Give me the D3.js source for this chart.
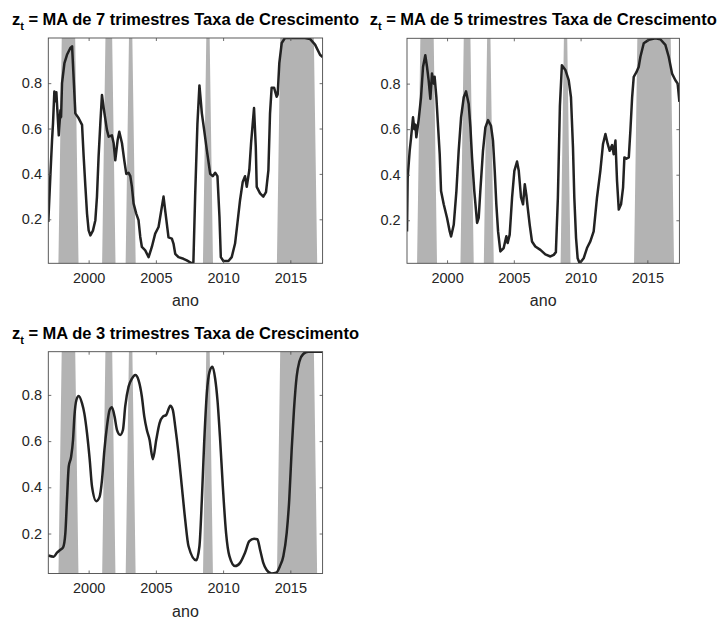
<!DOCTYPE html>
<html>
<head>
<meta charset="utf-8">
<script src="https://cdn.jsdelivr.net/npm/d3@7"></script>
<style>
  body { margin: 0; background: #fff; }
  svg { display: block; }
  text { font-family: Arial, "Liberation Sans", Helvetica, sans-serif; }
</style>
</head>
<body>
<svg id="chart" width="717" height="618"></svg>
<script>
// Smoothed recession probabilities, [year, value] with quarterly dates as year + (q-1)/4
const ma7 = [
  [1997.00,0.188],[1997.16,0.40],[1997.28,0.55],[1997.35,0.623],[1997.45,0.763],[1997.53,0.72],
  [1997.60,0.76],[1997.78,0.57],[1997.90,0.68],[1997.95,0.65],[1998.02,0.80],[1998.20,0.888],
  [1998.39,0.925],[1998.64,0.955],[1998.77,0.962],[1998.89,0.815],[1999.01,0.667],[1999.26,0.645],
  [1999.51,0.616],[1999.63,0.476],[1999.76,0.343],[1999.88,0.225],[2000.00,0.151],[2000.13,0.129],
  [2000.32,0.15],[2000.50,0.196],[2000.62,0.30],[2000.74,0.476],[2000.87,0.623],[2000.99,0.748],
  [2001.12,0.69],[2001.36,0.594],[2001.49,0.564],[2001.73,0.57],[2001.86,0.535],[2001.98,0.46],
  [2002.16,0.55],[2002.28,0.586],[2002.48,0.535],[2002.65,0.46],[2002.80,0.40],[2002.97,0.405],
  [2003.10,0.39],[2003.22,0.343],[2003.34,0.27],[2003.54,0.225],[2003.71,0.196],[2003.84,0.122],
  [2003.96,0.078],[2004.21,0.063],[2004.46,0.033],[2004.70,0.078],[2004.95,0.137],[2005.20,0.166],
  [2005.57,0.30],[2005.69,0.24],[2005.94,0.12],[2006.19,0.115],[2006.31,0.093],[2006.44,0.048],
  [2006.68,0.033],[2007.05,0.026],[2007.30,0.019],[2007.67,0.006],[2007.79,0.01],[2007.92,0.30],
  [2008.09,0.62],[2008.24,0.79],[2008.42,0.667],[2008.59,0.594],[2008.79,0.505],[2009.04,0.40],
  [2009.23,0.39],[2009.41,0.405],[2009.58,0.39],[2009.73,0.21],[2009.83,0.033],[2010.02,0.016],
  [2010.40,0.016],[2010.64,0.033],[2010.89,0.093],[2011.06,0.18],[2011.26,0.284],[2011.46,0.365],
  [2011.63,0.39],[2011.76,0.343],[2011.95,0.417],[2012.08,0.535],[2012.30,0.69],[2012.43,0.52],
  [2012.50,0.343],[2012.75,0.314],[2012.99,0.30],[2013.19,0.32],[2013.37,0.417],[2013.49,0.667],
  [2013.61,0.78],[2013.79,0.78],[2013.98,0.74],[2014.06,0.75],[2014.18,0.888],[2014.36,0.977],
  [2014.60,0.999],[2016.09,0.999],[2016.46,0.995],[2016.84,0.97],[2017.21,0.925],[2017.40,0.915]
];

const ma5 = [
  [1997.00,0.151],[1997.05,0.387],[1997.20,0.505],[1997.30,0.56],[1997.45,0.652],[1997.55,0.60],
  [1997.63,0.62],[1997.70,0.564],[1997.87,0.64],[1998.05,0.74],[1998.20,0.873],[1998.37,0.925],
  [1998.50,0.873],[1998.62,0.815],[1998.75,0.733],[1998.87,0.844],[1999.00,0.80],[1999.07,0.83],
  [1999.20,0.74],[1999.30,0.638],[1999.45,0.49],[1999.55,0.328],[1999.75,0.27],[2000.00,0.21],
  [2000.20,0.151],[2000.30,0.129],[2000.50,0.18],[2000.70,0.328],[2000.87,0.505],[2001.05,0.652],
  [2001.25,0.74],[2001.42,0.766],[2001.62,0.71],[2001.75,0.608],[2001.87,0.476],[2002.04,0.328],
  [2002.25,0.188],[2002.37,0.21],[2002.49,0.328],[2002.69,0.505],[2002.87,0.608],[2003.07,0.64],
  [2003.29,0.615],[2003.44,0.55],[2003.57,0.417],[2003.69,0.27],[2003.82,0.151],[2003.99,0.063],
  [2004.24,0.078],[2004.44,0.13],[2004.54,0.10],[2004.69,0.137],[2004.87,0.30],[2005.04,0.417],
  [2005.24,0.458],[2005.37,0.417],[2005.54,0.30],[2005.69,0.27],[2005.82,0.358],[2005.94,0.31],
  [2006.04,0.255],[2006.19,0.18],[2006.36,0.107],[2006.61,0.085],[2006.99,0.07],[2007.36,0.05],
  [2007.74,0.041],[2007.99,0.048],[2008.15,0.06],[2008.30,0.30],[2008.45,0.70],[2008.60,0.881],
  [2008.86,0.86],[2009.11,0.815],[2009.28,0.74],[2009.43,0.52],[2009.53,0.30],[2009.66,0.122],
  [2009.78,0.033],[2009.93,0.011],[2010.23,0.033],[2010.48,0.078],[2010.73,0.107],[2010.98,0.151],
  [2011.23,0.30],[2011.48,0.417],[2011.68,0.535],[2011.86,0.579],[2012.03,0.535],[2012.18,0.505],
  [2012.36,0.53],[2012.48,0.49],[2012.61,0.55],[2012.73,0.372],[2012.86,0.247],[2013.03,0.27],
  [2013.18,0.343],[2013.28,0.476],[2013.43,0.47],[2013.61,0.476],[2013.73,0.594],[2013.86,0.74],
  [2013.98,0.83],[2014.18,0.85],[2014.35,0.873],[2014.48,0.918],[2014.73,0.977],[2015.10,0.992],
  [2015.60,0.999],[2015.97,0.995],[2016.35,0.97],[2016.60,0.918],[2016.85,0.844],[2017.10,0.815],
  [2017.27,0.80],[2017.40,0.72]
];

const ma3 = [
  [1997.00,0.105],[1997.40,0.10],[1997.65,0.117],[1997.90,0.13],[1998.10,0.14],[1998.27,0.203],
  [1998.39,0.347],[1998.52,0.49],[1998.69,0.53],[1998.84,0.606],[1998.94,0.706],[1999.09,0.778],
  [1999.26,0.795],[1999.51,0.763],[1999.68,0.72],[1999.88,0.634],[2000.08,0.52],[2000.25,0.404],
  [2000.57,0.34],[2000.82,0.36],[2000.99,0.43],[2001.17,0.56],[2001.36,0.663],[2001.56,0.735],
  [2001.73,0.747],[2001.93,0.706],[2002.11,0.648],[2002.35,0.627],[2002.55,0.648],[2002.72,0.75],
  [2002.97,0.836],[2003.22,0.87],[2003.47,0.886],[2003.71,0.864],[2003.96,0.792],[2004.14,0.706],
  [2004.33,0.648],[2004.53,0.606],[2004.78,0.522],[2005.03,0.606],[2005.27,0.677],[2005.52,0.706],
  [2005.77,0.713],[2006.07,0.753],[2006.26,0.735],[2006.44,0.663],[2006.68,0.548],[2006.93,0.404],
  [2007.18,0.26],[2007.43,0.145],[2008.00,0.084],[2008.24,0.145],[2008.42,0.347],[2008.59,0.59],
  [2008.79,0.807],[2008.99,0.90],[2009.21,0.922],[2009.41,0.87],[2009.58,0.778],[2009.78,0.606],
  [2009.98,0.404],[2010.22,0.203],[2010.47,0.102],[2010.89,0.059],[2011.26,0.073],[2011.63,0.117],
  [2011.95,0.167],[2012.30,0.177],[2012.55,0.175],[2012.75,0.13],[2012.99,0.073],[2013.24,0.042],
  [2013.61,0.027],[2013.94,0.03],[2014.23,0.059],[2014.48,0.102],[2014.73,0.203],[2014.92,0.347],
  [2015.10,0.563],[2015.27,0.735],[2015.47,0.879],[2015.67,0.944],[2015.96,0.977],[2016.33,0.987],
  [2017.32,0.987],[2017.40,0.987]
];

// Recession dates (first and last quarter of each episode)
const recessionStart = [1998.00, 2001.25, 2003.00, 2008.75, 2014.25];
const recessionEnd   = [1999.00, 2001.75, 2003.25, 2009.00, 2016.75];

const xTicks = [2000, 2005, 2010, 2015];
const yTicks = [0.2, 0.4, 0.6, 0.8];
const windowLabels = ["7", "5", "3"];
const xLabel = "ano";

// Quarterly 0/1 recession indicator drawn as a shaded area
const quarters = d3.range(1997, 2017.26, 0.25);
const recessionIndicator = quarters.map(q => [q,
  recessionStart.some((s, i) => q >= s - 1e-6 && q <= recessionEnd[i] + 1e-6) ? 1 : 0]);

const panels = [
  { series: ma7, label: windowLabels[0], left: 48.3, top: 38.0, right: 322.6, bottom: 263.3, curve: d3.curveLinear },
  { series: ma5, label: windowLabels[1], left: 407.0, top: 38.3, right: 679.4, bottom: 263.3, curve: d3.curveLinear },
  { series: ma3, label: windowLabels[2], left: 48.3, top: 351.7, right: 322.6, bottom: 573.5, curve: d3.curveMonotoneX }
];

const svg = d3.select("#chart");
const axisColor = "#4a4a4a";
const textColor = "#262626";

panels.forEach((p, idx) => {
  const x = d3.scaleLinear().domain(d3.extent(p.series, d => d[0])).range([p.left, p.right]);
  const y = d3.scaleLinear().domain(d3.extent(p.series, d => d[1])).range([p.bottom, p.top]);
  const g = svg.append("g");

  const clipId = "clip" + idx;
  g.append("clipPath").attr("id", clipId)
    .append("rect")
    .attr("x", p.left).attr("y", p.top)
    .attr("width", p.right - p.left).attr("height", p.bottom - p.top);

  const plot = g.append("g").attr("clip-path", `url(#${clipId})`);

  plot.append("path")
    .datum(recessionIndicator)
    .attr("fill", "#b3b3b3")
    .attr("d", d3.area().x(d => x(d[0])).y0(y(0)).y1(d => y(d[1])));

  plot.append("path")
    .datum(p.series)
    .attr("fill", "none")
    .attr("stroke", "#222")
    .attr("stroke-width", 2.5)
    .attr("stroke-linejoin", "round")
    .attr("d", d3.line().x(d => x(d[0])).y(d => y(d[1])).curve(p.curve));

  // Axes with inward ticks on all four sides
  const fmt = d3.format(".1f");
  const bottomAxis = g.append("g").attr("transform", `translate(0,${p.bottom})`)
    .call(d3.axisBottom(x).tickValues(xTicks).tickFormat(d3.format("d")).tickSizeInner(-3).tickSizeOuter(0).tickPadding(9.7));
  const topAxis = g.append("g").attr("transform", `translate(0,${p.top})`)
    .call(d3.axisTop(x).tickValues(xTicks).tickFormat("").tickSizeInner(-3).tickSizeOuter(0));
  const leftAxis = g.append("g").attr("transform", `translate(${p.left},0)`)
    .call(d3.axisLeft(y).tickValues(yTicks).tickFormat(fmt).tickSizeInner(-3).tickSizeOuter(0).tickPadding(6.3));
  const rightAxis = g.append("g").attr("transform", `translate(${p.right},0)`)
    .call(d3.axisRight(y).tickValues(yTicks).tickFormat("").tickSizeInner(-3).tickSizeOuter(0));

  [bottomAxis, topAxis, leftAxis, rightAxis].forEach(a => {
    a.select(".domain").remove();
    a.selectAll(".tick line").attr("stroke", axisColor).attr("stroke-width", 0.8);
    a.selectAll("text").attr("fill", textColor).attr("font-size", "14.5px").attr("font-family", null);
  });

  g.append("rect")
    .attr("x", p.left).attr("y", p.top)
    .attr("width", p.right - p.left).attr("height", p.bottom - p.top)
    .attr("fill", "none").attr("stroke", axisColor).attr("stroke-width", 0.9);

  const cx = (p.left + p.right) / 2;

  // Title with subscript t
  const title = g.append("text")
    .attr("x", cx).attr("y", p.top - 13)
    .attr("text-anchor", "middle")
    .attr("font-weight", "bold").attr("font-size", "16.5px").attr("fill", "#000");
  title.append("tspan").text("z");
  title.append("tspan").attr("font-size", "11px").attr("dy", 5).text("t");
  title.append("tspan").attr("dy", -5).text(` = MA de ${p.label} trimestres Taxa de Crescimento`);

  g.append("text")
    .attr("x", cx).attr("y", p.bottom + 43)
    .attr("text-anchor", "middle")
    .attr("font-size", "16px").attr("fill", textColor)
    .text(xLabel);
});
</script>
</body>
</html>
